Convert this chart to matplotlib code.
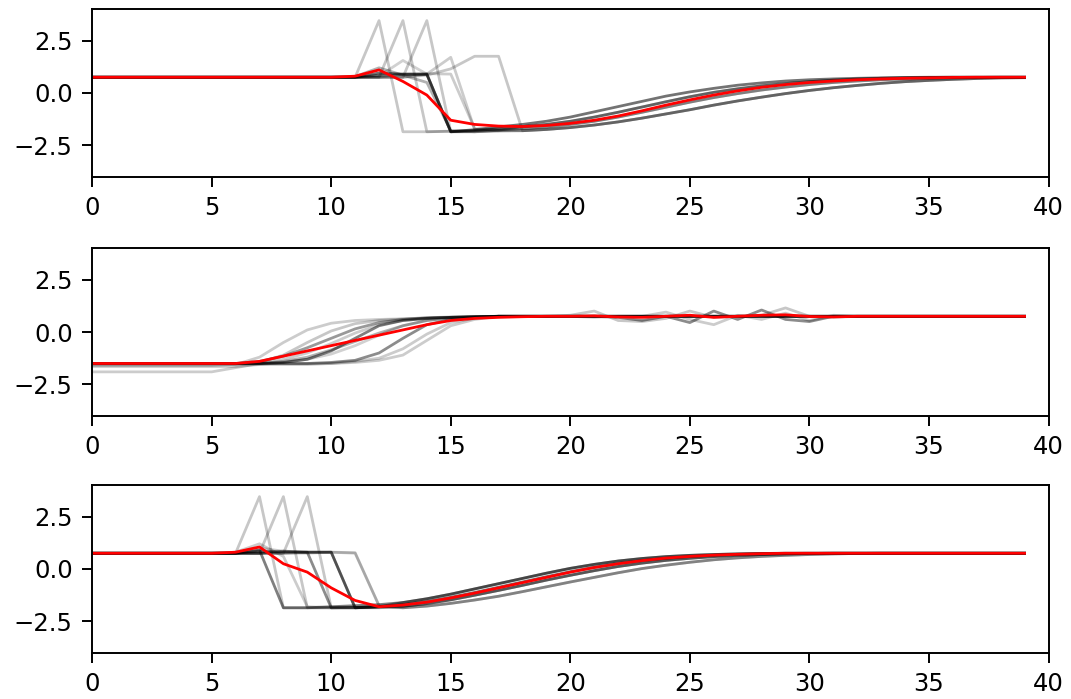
import matplotlib

matplotlib.use("Agg")
import matplotlib.pyplot as plt  # noqa: E402
import numpy as np  # noqa: E402

steps = np.arange(40)

# ---- panel 1: late onset (spikes at 12-14) ----  tails cover steps 18..39
tail1_early = [-1.5, -1.35, -1.15, -0.9, -0.65, -0.4, -0.15, 0.05, 0.22, 0.37,
               0.48, 0.57, 0.63, 0.67, 0.7, 0.72, 0.74, 0.75, 0.75, 0.75, 0.75, 0.75]
tail1_mid_early = [-1.6, -1.5, -1.35, -1.15, -0.92, -0.67, -0.42, -0.18, 0.03, 0.2,
                   0.34, 0.45, 0.54, 0.61, 0.66, 0.7, 0.72, 0.74, 0.75, 0.75, 0.75, 0.75]
tail1_mid = [-1.7, -1.62, -1.5, -1.35, -1.15, -0.92, -0.68, -0.44, -0.22, -0.03,
             0.14, 0.28, 0.4, 0.5, 0.57, 0.63, 0.67, 0.7, 0.72, 0.74, 0.75, 0.75]
tail1_late = [-1.8, -1.74, -1.65, -1.53, -1.38, -1.2, -1.0, -0.8, -0.58, -0.38,
              -0.2, -0.03, 0.12, 0.25, 0.36, 0.46, 0.54, 0.6, 0.65, 0.69, 0.72, 0.73]

runs1 = [
    [0.75] * 12 + [3.45, -1.85, -1.85, -1.82, -1.78, -1.75] + tail1_mid,
    [0.75] * 13 + [3.45, -1.85, -1.83, -1.8, -1.75] + tail1_mid,
    [0.75] * 14 + [3.45, -1.85, -1.85, -1.82] + tail1_late,
    [0.75] * 12 + [0.95, 0.9, 0.9, -1.85, -1.75, -1.62] + tail1_early,
    [0.75] * 12 + [0.85, 0.88, 0.88, -1.85, -1.8, -1.7] + tail1_mid_early,
    [0.75] * 12 + [0.8, 1.55, 0.9, -1.85, -1.85, -1.8] + tail1_mid,
    [0.75] * 14 + [0.9, 1.7, -1.75, -1.8] + tail1_late,
    [0.75] * 14 + [0.85, 1.15, 1.75, 1.75] + tail1_late,
    [0.75] * 13 + [0.9, 0.92, 0.9, -1.7, -1.78] + tail1_late,
    [0.75] * 11 + [0.78, 1.2, 0.85, 0.5, -1.8, -1.85, -1.78] + tail1_mid_early,
]
mean1 = [0.75] * 11 + [0.8, 1.1, 0.55, -0.1, -1.3, -1.5, -1.58, -1.6, -1.55, -1.45,
                       -1.3, -1.1, -0.85, -0.58, -0.33, -0.1, 0.1, 0.27, 0.4, 0.5,
                       0.57, 0.63, 0.67, 0.7, 0.72, 0.74, 0.75, 0.75, 0.75]
shade1 = [0.22, 0.22, 0.22, 0.55, 0.45, 0.18, 0.2, 0.22, 0.2, 0.3]

# ---- panel 2: rising from low state ----  tails cover steps 17..39
flat2 = [0.75] * 23
wig2_a = [0.75, 0.75, 0.75, 0.8, 1.0, 0.55, 0.5, 0.65, 1.0, 0.7, 0.75, 0.8,
          1.15, 0.75, 0.7, 0.75, 0.75, 0.75, 0.75, 0.75, 0.75, 0.75, 0.75]
wig2_b = [0.75, 0.75, 0.75, 0.75, 0.75, 0.7, 0.55, 0.75, 0.45, 1.0, 0.6, 1.05,
          0.6, 0.5, 0.75, 0.75, 0.75, 0.75, 0.75, 0.75, 0.75, 0.75, 0.75]
wig2_c = [0.75, 0.75, 0.75, 0.75, 0.7, 0.75, 0.75, 0.95, 0.6, 0.35, 0.8, 0.6,
          0.9, 0.55, 0.8, 0.75, 0.75, 0.75, 0.75, 0.75, 0.75, 0.75, 0.75]

runs2 = [
    [-1.6] * 6 + [-1.55, -1.2, -0.5, 0.1, 0.42, 0.55, 0.6, 0.63, 0.67, 0.7, 0.73] + flat2,
    [-1.5] * 7 + [-1.45, -1.1, -0.5, 0.05, 0.4, 0.55, 0.62, 0.68, 0.72, 0.74] + wig2_a,
    [-1.5] * 8 + [-1.45, -1.3, -0.9, -0.3, 0.3, 0.55, 0.65, 0.7, 0.73] + flat2,
    [-1.5] * 10 + [-1.45, -1.35, -1.0, -0.3, 0.35, 0.6, 0.7] + wig2_b,
    [-1.55] * 10 + [-1.5, -1.4, -1.25, -0.8, -0.1, 0.45, 0.65] + flat2,
    [-1.9] * 6 + [-1.7, -1.5, -1.3, -1.0, -0.55, -0.05, 0.35, 0.55, 0.65, 0.7, 0.73] + wig2_c,
    [-1.5] * 8 + [-1.4, -1.2, -0.85, -0.45, -0.05, 0.3, 0.55, 0.67, 0.72] + flat2,
    [-1.65] * 7 + [-1.55, -1.45, -1.3, -1.05, -0.65, -0.15, 0.3, 0.55, 0.68, 0.72] + flat2,
    [-1.5] * 7 + [-1.4, -1.15, -0.75, -0.3, 0.15, 0.45, 0.6, 0.67, 0.7, 0.72] + flat2,
    [-1.5] * 11 + [-1.45, -1.35, -1.1, -0.4, 0.3, 0.6] + flat2,
]
mean2 = [-1.5] * 7 + [-1.4, -1.15, -0.9, -0.65, -0.4, -0.15, 0.1, 0.35, 0.55, 0.65,
                      0.7, 0.73, 0.75, 0.75, 0.77, 0.72, 0.7, 0.75, 0.8, 0.7, 0.75,
                      0.8, 0.82, 0.74, 0.72] + [0.75] * 8
shade2 = [0.2, 0.22, 0.5, 0.45, 0.2, 0.2, 0.3, 0.18, 0.4, 0.2]

# ---- panel 3: early onset (spikes at 7-9) ----  tails cover steps 13..39
tail3_early = [-1.6, -1.42, -1.2, -0.95, -0.7, -0.45, -0.2, 0.03, 0.22, 0.38,
               0.5, 0.59, 0.65, 0.69, 0.72, 0.74] + [0.75] * 11
tail3_mid_early = [-1.7, -1.55, -1.35, -1.12, -0.87, -0.62, -0.37, -0.13, 0.08, 0.26,
                   0.4, 0.51, 0.59, 0.65, 0.69, 0.72, 0.74] + [0.75] * 10
tail3_mid = [-1.78, -1.65, -1.47, -1.25, -1.02, -0.78, -0.53, -0.3, -0.08, 0.12,
             0.28, 0.41, 0.51, 0.59, 0.65, 0.69, 0.72, 0.74] + [0.75] * 9
tail3_late = [-1.85, -1.77, -1.64, -1.48, -1.3, -1.08, -0.85, -0.62, -0.4, -0.18,
              0.02, 0.18, 0.32, 0.44, 0.53, 0.6, 0.65, 0.69, 0.72, 0.74] + [0.75] * 7

runs3 = [
    [0.75] * 7 + [3.45, -1.85, -1.85, -1.85, -1.83, -1.8] + tail3_mid,
    [0.75] * 8 + [3.45, -1.85, -1.85, -1.83, -1.8] + tail3_mid,
    [0.75] * 9 + [3.45, -1.85, -1.85, -1.83] + tail3_late,
    [0.75] * 7 + [0.9, -1.85, -1.85, -1.8, -1.75, -1.7] + tail3_early,
    [0.75] * 7 + [0.85, 0.8, 0.8, 0.8, -1.85, -1.8] + tail3_mid_early,
    [0.75] * 10 + [0.8, 0.75, -1.75] + tail3_late,
    [0.75] * 9 + [0.8, 0.8, -1.85, -1.85] + tail3_mid,
    [0.75] * 6 + [0.8, 1.2, 0.6, -1.8, -1.85, -1.85, -1.8] + tail3_mid,
    [0.75] * 8 + [0.85, 0.8, -1.85, -1.85, -1.8] + tail3_early,
    [0.75] * 7 + [1.0, 0.85, 0.8, 0.8, 0.78, -1.75] + tail3_late,
]
mean3 = [0.75] * 6 + [0.8, 1.05, 0.25, -0.15, -0.9, -1.5, -1.8, -1.72, -1.58, -1.38,
                      -1.15, -0.9, -0.65, -0.4, -0.15, 0.07, 0.25, 0.4, 0.52, 0.6,
                      0.66, 0.7, 0.73] + [0.75] * 11
shade3 = [0.22, 0.22, 0.22, 0.5, 0.55, 0.18, 0.3, 0.2, 0.45, 0.2]

panels = [(runs1, mean1, shade1), (runs2, mean2, shade2), (runs3, mean3, shade3)]

fig = plt.figure(figsize=(10.71, 6.99), dpi=100)
tops = [0.987, 0.645, 0.306]
height = 0.24
for (runs, mean, shade), top in zip(panels, tops):
    ax = fig.add_axes([0.086, top - height, 0.893, height])
    for run, a in zip(runs, shade):
        ax.plot(steps, run, color="k", alpha=a, lw=2.0)
    ax.plot(steps, mean, color="red", lw=2.0)
    ax.set_xlim(0, 40)
    ax.set_ylim(-4, 4)
    ax.set_yticks([-2.5, 0.0, 2.5])
    ax.tick_params(labelsize=17.5, length=7, width=1.4, pad=7)
    for sp in ax.spines.values():
        sp.set_linewidth(1.4)

fig.savefig("out.png", dpi=100)
